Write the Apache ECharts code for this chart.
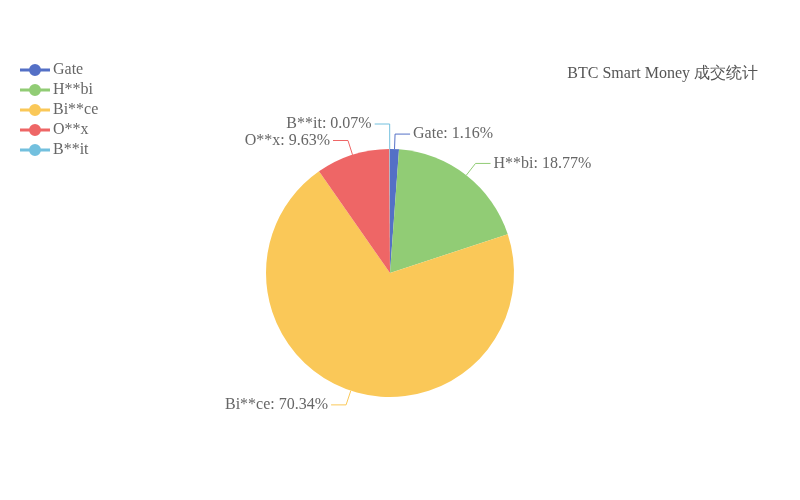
<!DOCTYPE html>
<html><head><meta charset="utf-8">
<script src="https://cdn.jsdelivr.net/npm/echarts@6/dist/echarts.min.js"></script>
<style>html,body{margin:0;padding:0;background:#fff}#c{width:800px;height:500px}</style>
</head><body><div id="c"></div>
<script>
var categories = ['Gate', 'H**bi', 'Bi**ce', 'O**x', 'B**it'];
var shares = [1.16, 18.77, 70.34, 9.63, 0.07];
var colors = ['#5470c6', '#91cc75', '#fac858', '#ee6666', '#73c0de'];
var titleText = 'BTC Smart Money 成交统计';

var font = '"Liberation Serif", "DejaVu Serif", serif';
var chart = echarts.init(document.getElementById('c'));
chart.setOption({
  color: colors,
  title: {
    text: titleText, right: 37, top: 61,
    textStyle: { fontFamily: font, fontSize: 16, fontWeight: 'normal', color: '#555' }
  },
  legend: {
    orient: 'vertical', left: 15, top: 57, itemGap: 4,
    itemWidth: 30, itemHeight: 14,
    icon: 'path://M0,5.5 L30,5.5 L30,8.5 L0,8.5 Z M15,1 A6,6 0 1,1 15,13 A6,6 0 1,1 15,1 Z',
    textStyle: { fontFamily: font, fontSize: 16, color: '#666', padding: [0,0,0,-2] },
    data: categories
  },
  series: [{
    type: 'pie',
    center: [390, 273],
    radius: 124,
    avoidLabelOverlap: false,
    data: categories.map(function (n, i) {
      var d = { name: n, value: shares[i] };
      if (n === 'B**it') d.labelLine = { length: 25 };
      return d;
    }),
    label: { formatter: '{b}: {c}%', fontFamily: font, fontSize: 16, color: '#666', distanceToLabelLine: 3 },
    labelLine: { length: 15, length2: 15 }
  }]
});
</script></body></html>
